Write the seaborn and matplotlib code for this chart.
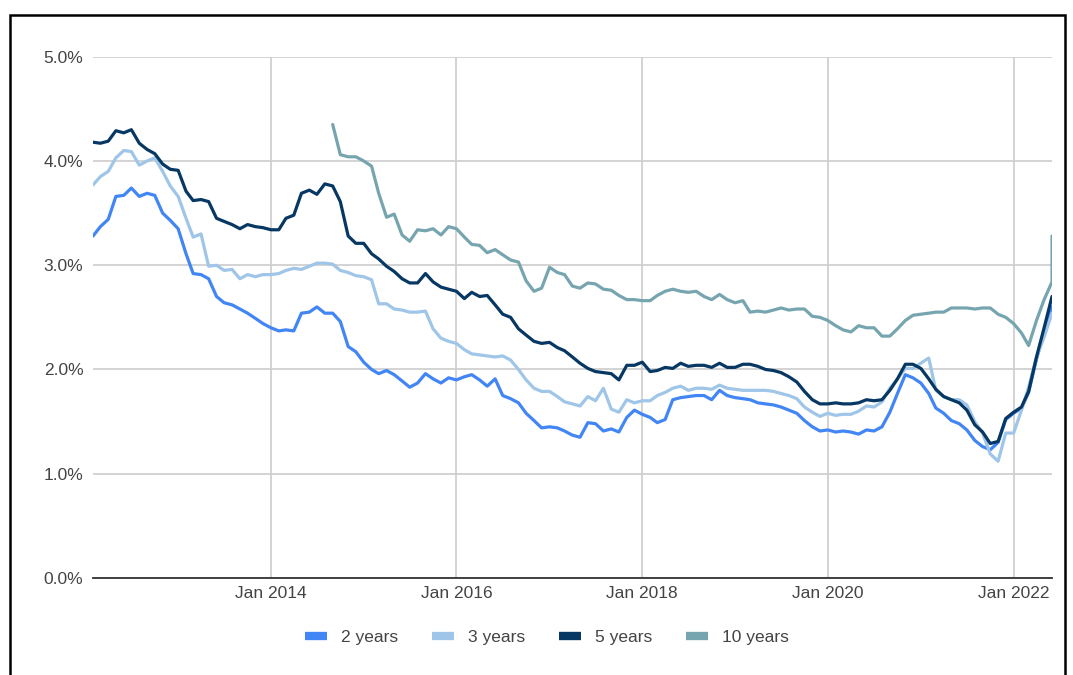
import matplotlib
matplotlib.use("Agg")
import matplotlib.pyplot as plt
import matplotlib.dates as mdates
from matplotlib.lines import Line2D
from matplotlib.patches import Rectangle
from matplotlib.ticker import FuncFormatter, MultipleLocator
import pandas as pd
import seaborn as sns

# Monthly fixed-rate mortgage quotes, Feb 2012 - Jun 2022 (percent)
months = pd.date_range("2012-02-01", "2022-06-01", freq="MS")

two_year = [
    3.28, 3.37, 3.44, 3.66, 3.67, 3.74, 3.66, 3.69, 3.67, 3.50, 3.43, 3.35,
    3.11, 2.92, 2.91, 2.87, 2.70, 2.64, 2.62, 2.58, 2.54, 2.49, 2.44, 2.40,
    2.37, 2.38, 2.37, 2.54, 2.55, 2.60, 2.54, 2.54, 2.46, 2.22, 2.17, 2.07,
    2.00, 1.96, 1.99, 1.95, 1.89, 1.83, 1.87, 1.96, 1.91, 1.87, 1.92, 1.90,
    1.93, 1.95, 1.90, 1.84, 1.91, 1.75, 1.72, 1.68, 1.58, 1.51, 1.44, 1.45,
    1.44, 1.41, 1.37, 1.35, 1.49, 1.48, 1.41, 1.43, 1.40, 1.54, 1.61, 1.57,
    1.54, 1.49, 1.52, 1.71, 1.73, 1.74, 1.75, 1.75, 1.71, 1.80, 1.75, 1.73,
    1.72, 1.71, 1.68, 1.67, 1.66, 1.64, 1.61, 1.58, 1.51, 1.45, 1.41, 1.42,
    1.40, 1.41, 1.40, 1.38, 1.42, 1.41, 1.45, 1.59, 1.77, 1.95, 1.92, 1.87,
    1.77, 1.63, 1.58, 1.51, 1.48, 1.42, 1.32, 1.26, 1.23, 1.30, 1.52, 1.58,
    1.63, 1.78, 2.10, 2.36, 2.60,
]

three_year = [
    3.77, 3.85, 3.90, 4.03, 4.10, 4.09, 3.96, 4.00, 4.03, 3.90, 3.76, 3.66,
    3.45, 3.27, 3.30, 2.99, 3.00, 2.95, 2.96, 2.87, 2.91, 2.89, 2.91, 2.91,
    2.92, 2.95, 2.97, 2.96, 2.99, 3.02, 3.02, 3.01, 2.95, 2.93, 2.90, 2.89,
    2.86, 2.63, 2.63, 2.58, 2.57, 2.55, 2.55, 2.56, 2.39, 2.30, 2.27, 2.25,
    2.19, 2.15, 2.14, 2.13, 2.12, 2.13, 2.09, 2.00, 1.90, 1.82, 1.79, 1.79,
    1.74, 1.69, 1.67, 1.65, 1.74, 1.70, 1.82, 1.62, 1.59, 1.71, 1.68, 1.70,
    1.70, 1.75, 1.78, 1.82, 1.84, 1.80, 1.82, 1.82, 1.81, 1.85, 1.82, 1.81,
    1.80, 1.80, 1.80, 1.80, 1.79, 1.77, 1.75, 1.72, 1.64, 1.59, 1.55, 1.58,
    1.56, 1.57, 1.57, 1.60, 1.65, 1.64, 1.69, 1.82, 1.91, 2.01, 2.01, 2.06,
    2.11, 1.80, 1.74, 1.71, 1.71, 1.66, 1.50, 1.39, 1.19, 1.12, 1.39, 1.39,
    1.61, 1.83, 2.12, 2.31, 2.54,
]

five_year = [
    4.18, 4.17, 4.19, 4.29, 4.27, 4.30, 4.17, 4.11, 4.07, 3.97, 3.92, 3.91,
    3.71, 3.62, 3.63, 3.61, 3.45, 3.42, 3.39, 3.35, 3.39, 3.37, 3.36, 3.34,
    3.34, 3.45, 3.48, 3.69, 3.72, 3.68, 3.78, 3.76, 3.61, 3.28, 3.21, 3.21,
    3.11, 3.06, 2.99, 2.94, 2.87, 2.83, 2.83, 2.92, 2.84, 2.79, 2.77, 2.75,
    2.68, 2.74, 2.70, 2.71, 2.62, 2.53, 2.50, 2.39, 2.33, 2.27, 2.25, 2.26,
    2.21, 2.18, 2.12, 2.06, 2.01, 1.98, 1.97, 1.96, 1.90, 2.04, 2.04, 2.07,
    1.98, 1.99, 2.02, 2.01, 2.06, 2.03, 2.04, 2.04, 2.02, 2.06, 2.02, 2.02,
    2.05, 2.05, 2.03, 2.00, 1.99, 1.97, 1.93, 1.88, 1.79, 1.71, 1.67, 1.67,
    1.68, 1.67, 1.67, 1.68, 1.71, 1.70, 1.71, 1.80, 1.91, 2.05, 2.05, 2.01,
    1.91, 1.81, 1.74, 1.71, 1.68, 1.61, 1.47, 1.40, 1.29, 1.31, 1.53, 1.59,
    1.64, 1.79, 2.12, 2.40, 2.70,
]

# The 10-year product is quoted from Sep 2014; June 2022 carries two quotes
ten_year_dates = list(pd.date_range("2014-09-01", "2022-06-01", freq="MS")) + [
    pd.Timestamp("2022-06-01")
]
ten_year = [
    4.35, 4.06, 4.04, 4.04, 4.00, 3.95, 3.69, 3.46, 3.49, 3.29, 3.23, 3.34,
    3.33, 3.35, 3.29, 3.37, 3.35, 3.27, 3.20, 3.19, 3.12, 3.15, 3.10, 3.05,
    3.03, 2.85, 2.75, 2.78, 2.98, 2.93, 2.91, 2.80, 2.78, 2.83, 2.82, 2.77,
    2.76, 2.71, 2.67, 2.67, 2.66, 2.66, 2.71, 2.75, 2.77, 2.75, 2.74, 2.75,
    2.70, 2.67, 2.72, 2.67, 2.64, 2.66, 2.55, 2.56, 2.55, 2.57, 2.59, 2.57,
    2.58, 2.58, 2.51, 2.50, 2.47, 2.42, 2.38, 2.36, 2.42, 2.40, 2.40, 2.32,
    2.32, 2.39, 2.47, 2.52, 2.53, 2.54, 2.55, 2.55, 2.59, 2.59, 2.59, 2.58,
    2.59, 2.59, 2.53, 2.50, 2.44, 2.35, 2.23, 2.47, 2.67, 2.84, 3.28,
]

series_names = ["2 years", "3 years", "5 years", "10 years"]
series_colors = ["#4285F4", "#9FC5E8", "#073763", "#76A5AF"]

frames = [
    pd.DataFrame({"date": months, "rate": two_year, "term": "2 years"}),
    pd.DataFrame({"date": months, "rate": three_year, "term": "3 years"}),
    pd.DataFrame({"date": months, "rate": five_year, "term": "5 years"}),
    pd.DataFrame({"date": ten_year_dates, "rate": ten_year, "term": "10 years"}),
]
df = pd.concat(frames, ignore_index=True)

sns.set_theme(style="white")
plt.rcParams["font.family"] = ["Liberation Sans", "DejaVu Sans"]

W, H = 1073, 675
fig = plt.figure(figsize=(W / 100, H / 100), dpi=100)
ax = fig.add_axes([93 / W, 1 - 578 / H, (1052 - 93) / W, (578 - 56.7) / H])

sns.lineplot(
    data=df, x="date", y="rate", hue="term", hue_order=series_names,
    palette=dict(zip(series_names, series_colors)),
    estimator=None, sort=False, linewidth=2.3, legend=False, ax=ax,
)

ax.set_xlim(months[0], months[-1])
ax.set_ylim(0, 5)
ax.yaxis.set_major_locator(MultipleLocator(1))
ax.yaxis.set_major_formatter(FuncFormatter(lambda v, _: f"{v:.1f}%"))
ax.xaxis.set_major_locator(mdates.YearLocator(2))
ax.xaxis.set_major_formatter(mdates.DateFormatter("%b %Y"))
ax.set_xlabel("")
ax.set_ylabel("")

ax.grid(True, color="#cccccc", linewidth=1.2)
ax.set_axisbelow(True)
for side in ["top", "right", "left"]:
    ax.spines[side].set_visible(False)
ax.spines["bottom"].set_color("#333333")
ax.spines["bottom"].set_linewidth(1.3)
ax.tick_params(axis="both", length=0, labelsize=12.5, labelcolor="#444444")
ax.tick_params(axis="y", pad=7)
ax.tick_params(axis="x", pad=6)

handles = [Line2D([], [], color=c, linewidth=6, solid_capstyle="butt") for c in series_colors]
fig.legend(
    handles, series_names, loc="center", bbox_to_anchor=(547 / W, 1 - 637 / H),
    ncol=4, frameon=False, fontsize=12.5, handlelength=1.27, handletextpad=0.8,
    columnspacing=1.95, labelcolor="#444444",
)

# Outer frame around the chart
fig.patches.append(Rectangle(
    (9.5 / W, -0.05), (1064.5 - 9.5) / W, 1.05 - 15 / H,
    transform=fig.transFigure, fill=False, edgecolor="black", linewidth=1.8,
))

fig.savefig("out.png", dpi=100)
